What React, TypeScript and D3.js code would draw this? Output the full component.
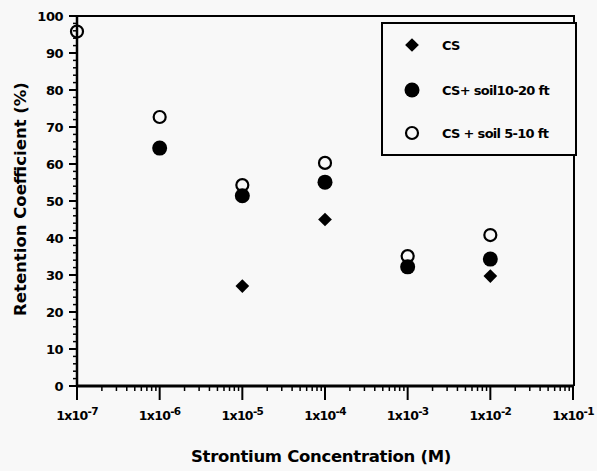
import React, { useEffect, useRef } from 'react';
import * as d3 from 'd3';

// concentrations (M) and retention coefficients (%)
const csConc = [1e-5, 1e-4, 1e-2];
const csValues = [27, 45, 29.7];
const soil1020Conc = [1e-6, 1e-5, 1e-4, 1e-3, 1e-2];
const soil1020Values = [64.3, 51.4, 55.1, 32.2, 34.3];
const soil510Conc = [1e-7, 1e-6, 1e-5, 1e-4, 1e-3, 1e-2];
const soil510Values = [95.8, 72.7, 54.3, 60.3, 35.1, 40.8];
const xTickExps = [-7, -6, -5, -4, -3, -2, -1];
const yTicks = [0, 10, 20, 30, 40, 50, 60, 70, 80, 90, 100];
const legendLabels = ['CS', 'CS+ soil10-20 ft', 'CS + soil 5-10 ft'];

const App = () => {
    const svgRef = useRef(null);

    useEffect(() => {
        drawChart();
    }, []);

    const drawChart = () => {
        const svg = d3.select(svgRef.current);
        svg.selectAll('*').remove();

        const width = 597;
        const height = 471;
        const left = 77, right = 573, top = 16, bottom = 386;
        const font = '"DejaVu Sans", Arial, sans-serif';

        svg.append('rect').attr('width', width).attr('height', height).attr('fill', '#f8f8f8');

        const x = d3.scaleLog().domain([1e-7, 1e-1]).range([left, right]);
        const y = d3.scaleLinear().domain([0, 100]).range([bottom, top]);

        // frame: top and right
        svg.append('path')
            .attr('d', `M${left},${top}H${right + 1}V${bottom}`)
            .attr('fill', 'none').attr('stroke', '#000').attr('stroke-width', 2);

        // y axis
        const yAxis = svg.append('g').attr('font-family', font);
        yAxis.append('line').attr('x1', left).attr('x2', left).attr('y1', top).attr('y2', bottom + 1)
            .attr('stroke', '#000').attr('stroke-width', 2.5);
        d3.range(0, 101, 2).forEach(v => {
            const major = v % 10 === 0;
            yAxis.append('line')
                .attr('x1', left - (major ? 8 : 4)).attr('x2', left)
                .attr('y1', y(v)).attr('y2', y(v))
                .attr('stroke', '#000').attr('stroke-width', major ? 2 : 1.5);
        });
        yTicks.forEach(v => {
            yAxis.append('text')
                .attr('x', left - 14).attr('y', y(v) + 5)
                .attr('text-anchor', 'end')
                .attr('font-size', 13).attr('font-weight', 'bold')
                .attr('letter-spacing', -0.5)
                .text(v);
        });

        // x axis
        const xAxis = svg.append('g').attr('font-family', font);
        xAxis.append('line').attr('x1', left - 1).attr('x2', right + 1).attr('y1', bottom).attr('y2', bottom)
            .attr('stroke', '#000').attr('stroke-width', 3);
        for (let e = -7; e < -1; e++) {
            for (let m = 2; m <= 9; m++) {
                const px = x(m * Math.pow(10, e));
                xAxis.append('line').attr('x1', px).attr('x2', px)
                    .attr('y1', bottom).attr('y2', bottom + 5)
                    .attr('stroke', '#000').attr('stroke-width', 1.5);
            }
        }
        xTickExps.forEach(e => {
            const px = x(Math.pow(10, e));
            xAxis.append('line').attr('x1', px).attr('x2', px)
                .attr('y1', bottom).attr('y2', bottom + 14)
                .attr('stroke', '#000').attr('stroke-width', 2);
            const t = xAxis.append('text')
                .attr('x', px).attr('y', 420)
                .attr('text-anchor', 'middle')
                .attr('font-size', 12.5).attr('font-weight', 'bold')
                .attr('letter-spacing', -0.7);
            t.append('tspan').text('1x10');
            t.append('tspan').attr('dy', -5).attr('font-size', 10.5).text(e);
        });

        // axis titles
        svg.append('text')
            .attr('x', 321).attr('y', 462)
            .attr('text-anchor', 'middle')
            .attr('font-family', font).attr('font-size', 16.5).attr('font-weight', 'bold')
            .attr('letter-spacing', -0.3)
            .text('Strontium Concentration (M)');
        svg.append('text')
            .attr('transform', `translate(26,${(top + bottom) / 2 - 2}) rotate(-90)`)
            .attr('text-anchor', 'middle')
            .attr('font-family', font).attr('font-size', 16.5).attr('font-weight', 'bold')
            .attr('letter-spacing', 0)
            .text('Retention Coefficient (%)');

        const diamond = d3.symbol().type(d3.symbolDiamond2).size(120);

        const marks = svg.append('g');
        // CS diamonds
        marks.selectAll('.cs')
            .data(csConc.map((c, i) => [c, csValues[i]]))
            .enter().append('path')
            .attr('d', diamond)
            .attr('transform', d => `translate(${x(d[0])},${y(d[1])})`)
            .attr('fill', '#000');
        // CS + soil 5-10 ft open circles
        marks.selectAll('.open')
            .data(soil510Conc.map((c, i) => [c, soil510Values[i]]))
            .enter().append('circle')
            .attr('cx', d => x(d[0])).attr('cy', d => y(d[1]))
            .attr('r', 6).attr('fill', 'none')
            .attr('stroke', '#000').attr('stroke-width', 2.2);
        // CS + soil 10-20 ft filled circles
        marks.selectAll('.filled')
            .data(soil1020Conc.map((c, i) => [c, soil1020Values[i]]))
            .enter().append('circle')
            .attr('cx', d => x(d[0])).attr('cy', d => y(d[1]))
            .attr('r', 7.5).attr('fill', '#000');

        // legend
        const legend = svg.append('g').attr('font-family', font);
        legend.append('rect')
            .attr('x', 382).attr('y', 23).attr('width', 194).attr('height', 132)
            .attr('fill', '#f8f8f8').attr('stroke', '#000').attr('stroke-width', 2);
        const ly = [45, 90, 133];
        legend.append('path').attr('d', diamond).attr('transform', `translate(412,${ly[0]})`).attr('fill', '#000');
        legend.append('circle').attr('cx', 412).attr('cy', ly[1]).attr('r', 7.5).attr('fill', '#000');
        legend.append('circle').attr('cx', 412).attr('cy', ly[2]).attr('r', 6)
            .attr('fill', 'none').attr('stroke', '#000').attr('stroke-width', 2.2);
        legendLabels.forEach((label, i) => {
            legend.append('text')
                .attr('x', 442).attr('y', ly[i] + 5)
                .attr('font-size', 13).attr('font-weight', 'bold')
                .attr('letter-spacing', -0.7)
                .text(label);
        });
    };

    return (
        <div style={{ position: 'absolute', left: 0, top: 0 }}>
            <svg ref={svgRef} width={597} height={471} style={{ display: 'block' }}></svg>
        </div>
    );
};

export default App;
